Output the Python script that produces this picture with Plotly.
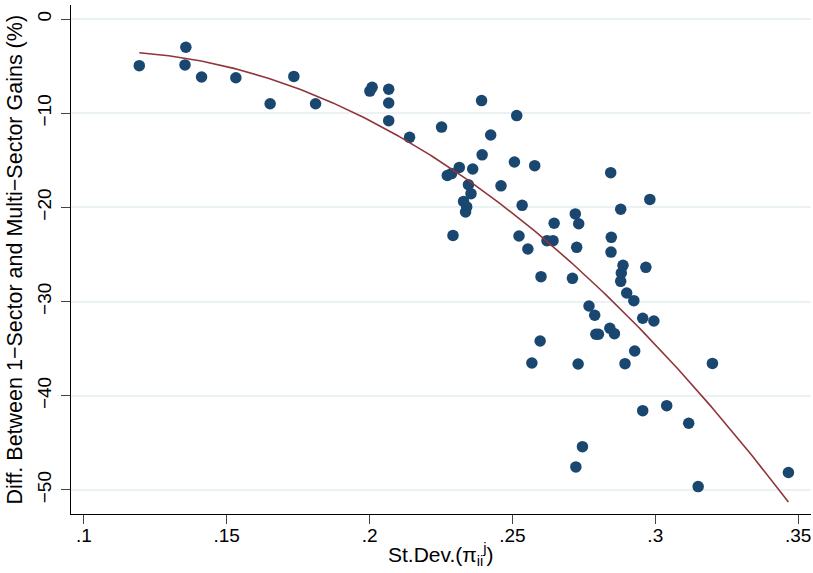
import numpy as np
import plotly.graph_objects as go

# St.Dev.(pi_ii^j)
sd_pi = [0.1194, 0.1357, 0.1354, 0.1412, 0.1532, 0.1652, 0.1735, 0.1811,
         0.2001, 0.2009, 0.2067, 0.2067, 0.2067, 0.2140, 0.2252, 0.2392,
         0.2515, 0.2424, 0.2394, 0.2507, 0.2578, 0.2314, 0.2272, 0.2287,
         0.2361, 0.2346, 0.2355, 0.2460, 0.2329, 0.2340, 0.2336, 0.2534,
         0.2292, 0.2523, 0.2554, 0.2844, 0.2981, 0.2879, 0.2720, 0.2646,
         0.2732, 0.2621, 0.2642, 0.2846, 0.2725, 0.2845, 0.2887, 0.2881,
         0.2879, 0.2967, 0.2600, 0.2710, 0.2900, 0.2925, 0.2768, 0.2788,
         0.2956, 0.2995, 0.2792, 0.2801, 0.2841, 0.2857, 0.2597, 0.2928,
         0.2568, 0.2730, 0.2894, 0.3200, 0.2956, 0.3040, 0.3117, 0.2745,
         0.2722, 0.3150, 0.3466]

# Diff. between 1-sector and multi-sector gains (%)
gain_diff = [-4.95, -3.00, -4.87, -6.16, -6.23, -8.99, -6.09, -8.99,
             -7.65, -7.25, -7.46, -8.91, -10.79, -12.56, -11.47, -8.66,
             -10.25, -12.31, -14.42, -15.18, -15.57, -15.75, -16.61, -16.41,
             -15.92, -17.59, -18.54, -17.71, -19.36, -19.95, -20.49, -19.78,
             -22.97, -23.04, -24.42, -16.31, -19.15, -20.19, -20.69, -21.68,
             -21.73, -23.53, -23.53, -23.18, -24.24, -24.74, -26.15, -26.96,
             -27.85, -26.36, -27.35, -27.53, -29.09, -29.90, -30.47, -31.45,
             -31.77, -32.06, -33.47, -33.47, -32.83, -33.40, -34.18, -35.24,
             -36.52, -36.62, -36.59, -36.56, -41.58, -41.05, -42.92, -45.40,
             -47.55, -49.64, -48.14]

x_ticks = [0.1, 0.15, 0.2, 0.25, 0.3, 0.35]
x_tick_labels = [".1", ".15", ".2", ".25", ".3", ".35"]
y_ticks = [0, -10, -20, -30, -40, -50]
y_tick_labels = ["0", "\u221210", "\u221220", "\u221230", "\u221240", "\u221250"]

x_title = "St.Dev.(\u03c0<sub>ii</sub><sup>j</sup>)"
y_title = "Diff. Between 1\u2212Sector and Multi\u2212Sector Gains (%)"

# quadratic fit (qfit)
x_arr = np.array(sd_pi)
y_arr = np.array(gain_diff)
coef = np.polyfit(x_arr, y_arr, 2)
x_fit = np.linspace(x_arr.min(), x_arr.max(), 200)
y_fit = np.polyval(coef, x_fit)

fig = go.Figure()
fig.add_trace(go.Scatter(
    x=sd_pi, y=gain_diff, mode="markers",
    marker=dict(color="#1a476f", size=11.5, line=dict(width=0)),
    showlegend=False,
))
fig.add_trace(go.Scatter(
    x=x_fit, y=y_fit, mode="lines",
    line=dict(color="#90353b", width=1.6),
    showlegend=False,
))

font_family = "Liberation Sans, Arial, Helvetica, sans-serif"
fig.update_layout(
    width=813, height=573,
    margin=dict(l=71, r=2, t=5, b=59, autoexpand=False),
    paper_bgcolor="white", plot_bgcolor="white",
    font=dict(family=font_family, size=19, color="black"),
    xaxis=dict(
        range=[0.0955, 0.3545],
        tickvals=x_ticks, ticktext=x_tick_labels,
        ticks="outside", ticklen=9, tickcolor="#444", tickwidth=1.3,
        showline=True, linecolor="black", linewidth=1.3,
        showgrid=False, zeroline=False, automargin=False,
        ticklabelstandoff=-5,
        tickfont=dict(size=19),
    ),
    yaxis=dict(
        range=[-52.55, 1.49],
        tickvals=y_ticks, ticktext=y_tick_labels,
        tickangle=-90,
        ticks="outside", ticklen=9, tickcolor="#444", tickwidth=1.3,
        showline=True, linecolor="black", linewidth=1.3,
        showgrid=True, gridcolor="#eaf2f3", gridwidth=1.5,
        zeroline=False, automargin=False,
        ticklabelstandoff=2,
        tickfont=dict(size=19),
    ),
    annotations=[
        dict(text=x_title, xref="paper", yref="paper", x=0.5, y=0,
             xanchor="center", yanchor="middle", yshift=-40, showarrow=False,
             font=dict(size=21)),
        dict(text=y_title, xref="paper", yref="paper", x=0, y=0.5,
             xanchor="center", yanchor="middle", xshift=-57, yshift=0,
             textangle=-90, showarrow=False, font=dict(size=21.5)),
    ],
)

fig.write_html("out.html", config={"displayModeBar": False},
               post_script="document.body.style.margin='0px';")
